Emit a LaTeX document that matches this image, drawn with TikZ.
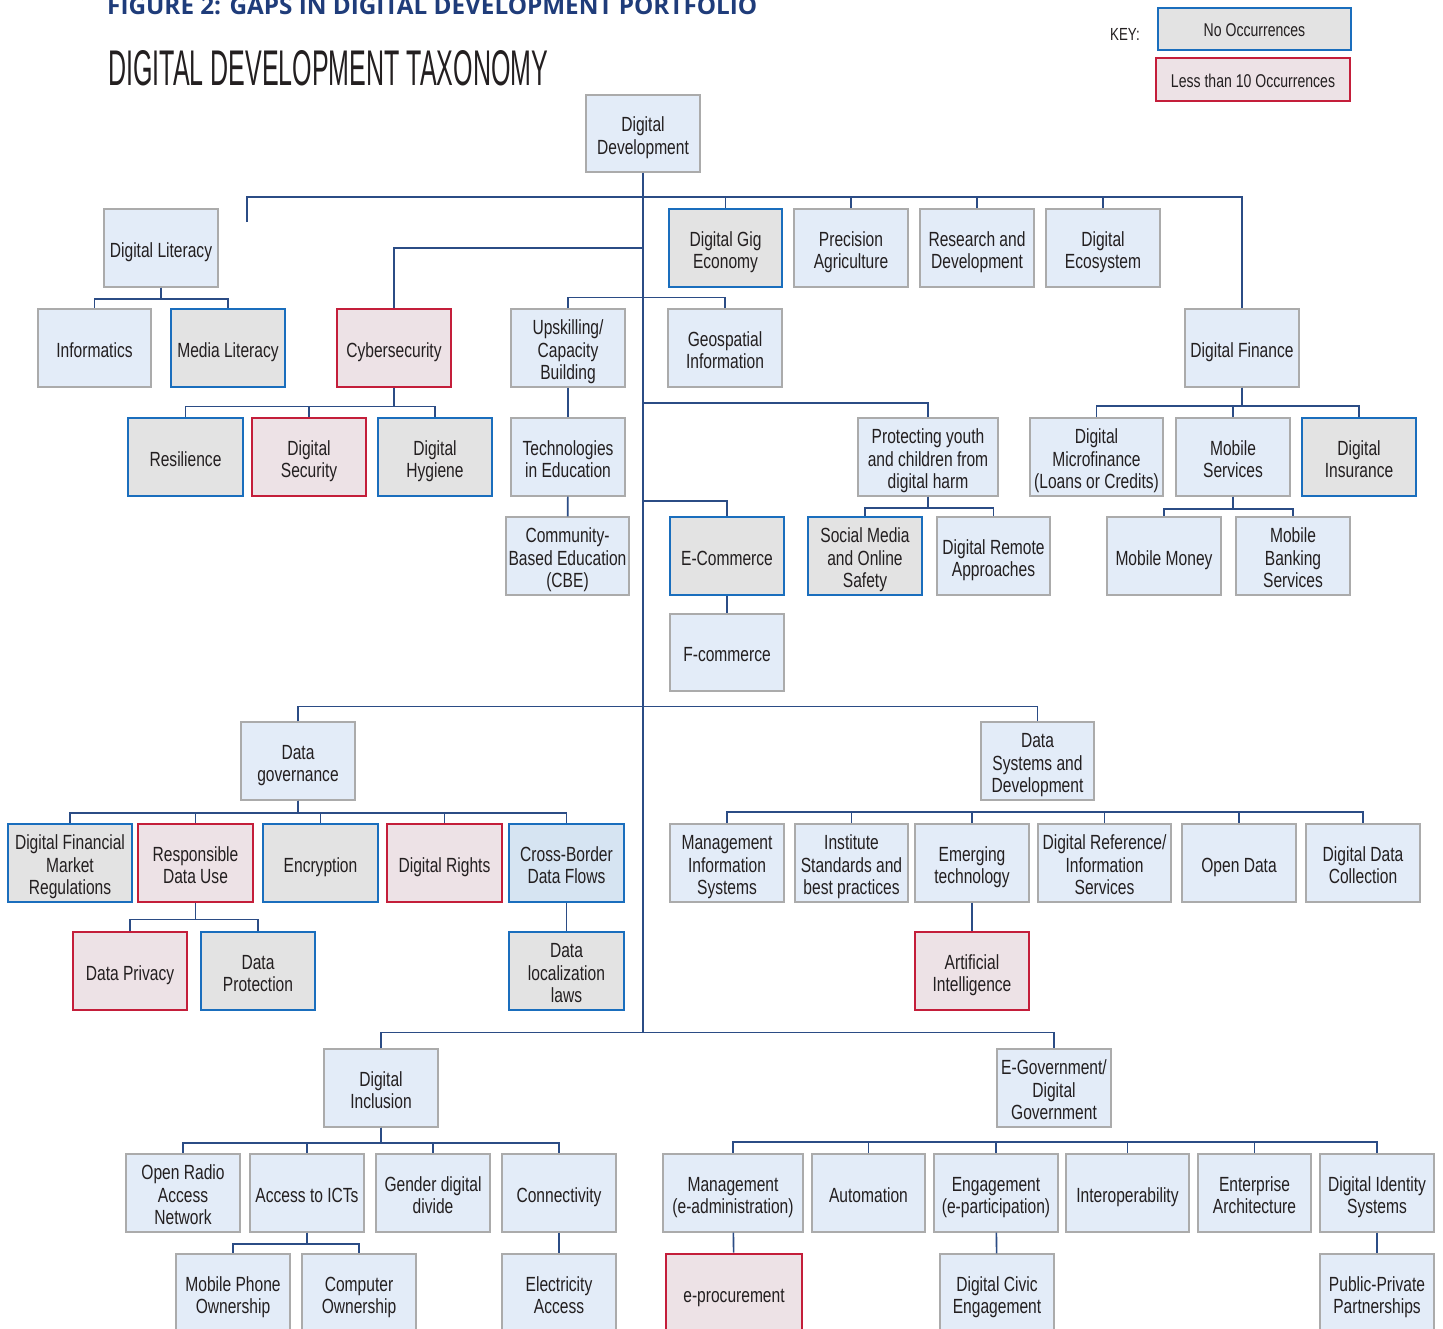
\documentclass[tikz,border=0pt]{standalone}
\usepackage{fontspec}
\usepackage{graphicx}
\setmainfont{Liberation Sans}[FakeStretch=0.76]
\newfontfamily\titlefont{Open Sans}
\newfontfamily\headfont{Liberation Sans}
\definecolor{lbfill}{HTML}{E3ECF8}
\definecolor{lbdraw}{HTML}{ABABAB}
\definecolor{gfill}{HTML}{E3E3E3}
\definecolor{bdraw}{HTML}{1A6EBD}
\definecolor{pfill}{HTML}{EDE2E6}
\definecolor{rdraw}{HTML}{C41E3A}
\definecolor{cbfill}{HTML}{D6E4F2}
\definecolor{lnc}{HTML}{2B4C85}
\definecolor{txt}{HTML}{231F20}
\definecolor{titleblue}{HTML}{1F3C7A}
\tikzset{
  basebox/.style={rectangle, align=center, text=txt, inner sep=0pt,
    font=\fontsize{20.5}{22.5}\selectfont},
  plainbox/.style={basebox, fill=lbfill, draw=lbdraw, line width=1.4pt},
  nocc/.style={basebox, fill=gfill, draw=bdraw, line width=2.6pt},
  locc/.style={basebox, fill=pfill, draw=rdraw, line width=2.6pt},
  crossbox/.style={basebox, fill=cbfill, draw=bdraw, line width=2.6pt},
  conn/.style={draw=lnc, line width=1.6pt},
  trunk/.style={draw=lnc, line width=2.4pt},
}
\newcommand\vstr[1]{\rule{0pt}{23.4pt}#1\rule[-4.6pt]{0pt}{0pt}}
\newcommand\mkbox[7]{\node[#1, minimum width={#5-#3}, minimum height={#6-#4}] (#2) at ({(#3+#5)/2},{(#4+#6)/2}) {\vstr{#7}};}
\begin{document}
\begin{tikzpicture}[x=1pt,y=-1pt]
\clip (0,0) rectangle (1443,1328);
\fill[white] (0,0) rectangle (1443,1328);

% titles
\node[anchor=base west, inner sep=0pt, text=titleblue] (fig) at (107,14)
  {\resizebox{650pt}{!}{\titlefont\bfseries\fontsize{23}{23}\selectfont FIGURE 2: GAPS IN DIGITAL DEVELOPMENT PORTFOLIO}};
\node[anchor=base west, inner sep=0pt, text=txt] (ttl) at (108,85)
  {\resizebox{440pt}{35pt}{\headfont DIGITAL DEVELOPMENT TAXONOMY}};

% key
\node[text=txt, font=\fontsize{17.5}{20}\selectfont, inner sep=0pt, anchor=base] (key) at (1125,40) {KEY:};
\node[nocc, font=\fontsize{18.5}{20}\selectfont, minimum width=193, minimum height=42] (k1) at (1254.5,29) {\rule{0pt}{19.5pt}No Occurrences\rule[-4pt]{0pt}{0pt}};
\node[locc, font=\fontsize{18.5}{20}\selectfont, minimum width=194, minimum height=43] (k2) at (1253,79.5) {\rule{0pt}{19.5pt}Less than 10 Occurrences\rule[-4pt]{0pt}{0pt}};

% nodes
\mkbox{plainbox}{dd}{586}{95}{700}{172}{Digital\\Development}
\mkbox{plainbox}{dlit}{104}{209}{218}{287}{Digital Literacy}
\mkbox{nocc}{gig}{669}{209}{782}{287}{Digital Gig\\Economy}
\mkbox{plainbox}{prec}{794}{209}{908}{287}{Precision\\Agriculture}
\mkbox{plainbox}{rnd}{920}{209}{1034}{287}{Research and\\Development}
\mkbox{plainbox}{eco}{1046}{209}{1160}{287}{Digital\\Ecosystem}
\mkbox{plainbox}{dfin}{1185}{309}{1299}{387}{Digital Finance}
\mkbox{plainbox}{info}{38}{309}{151}{387}{Informatics}
\mkbox{nocc}{media}{171}{309}{285}{387}{Media Literacy}
\mkbox{locc}{cyber}{337}{309}{451}{387}{Cybersecurity}
\mkbox{plainbox}{upsk}{511}{309}{625}{387}{Upskilling/\\Capacity\\Building}
\mkbox{plainbox}{geo}{668}{309}{782}{387}{Geospatial\\Information}
\mkbox{nocc}{resil}{128}{418}{243}{496}{Resilience}
\mkbox{locc}{dsec}{252}{418}{366}{496}{Digital\\Security}
\mkbox{nocc}{hyg}{378}{418}{492}{496}{Digital\\Hygiene}
\mkbox{plainbox}{tech}{511}{418}{625}{496}{Technologies\\in Education}
\mkbox{plainbox}{prot}{858}{418}{998}{496}{Protecting youth\\and children from\\digital harm}
\mkbox{plainbox}{micro}{1030}{418}{1163}{496}{Digital\\Microfinance\\(Loans or Credits)}
\mkbox{plainbox}{mserv}{1176}{418}{1290}{496}{Mobile\\Services}
\mkbox{nocc}{dins}{1302}{418}{1416}{496}{Digital\\Insurance}
\mkbox{plainbox}{cbe}{506}{517}{629}{595}{Community-\\Based Education\\(CBE)}
\mkbox{nocc}{ecom}{670}{517}{784}{595}{E-Commerce}
\mkbox{nocc}{social}{808}{517}{922}{595}{Social Media\\and Online\\Safety}
\mkbox{plainbox}{remote}{937}{517}{1050}{595}{Digital Remote\\Approaches}
\mkbox{plainbox}{mmoney}{1107}{517}{1221}{595}{Mobile Money}
\mkbox{plainbox}{mbank}{1236}{517}{1350}{595}{Mobile\\Banking\\Services}
\mkbox{plainbox}{fcom}{670}{614}{784}{691}{F-commerce}
\mkbox{plainbox}{dgov}{241}{722}{355}{800}{Data\\governance}
\mkbox{plainbox}{dsys}{981}{722}{1094}{800}{Data\\Systems and\\Development}
\mkbox{nocc}{dfmr}{8}{824}{132}{902}{Digital Financial\\Market\\Regulations}
\mkbox{locc}{rdu}{138}{824}{253}{902}{Responsible\\Data Use}
\mkbox{nocc}{encr}{263}{824}{378}{902}{Encryption}
\mkbox{locc}{drights}{387}{824}{502}{902}{Digital Rights}
\mkbox{crossbox}{cbdf}{509}{824}{624}{902}{Cross-Border\\Data Flows}
\mkbox{plainbox}{mis}{670}{824}{784}{902}{Management\\Information\\Systems}
\mkbox{plainbox}{inst}{795}{824}{908}{902}{Institute\\Standards and\\best practices}
\mkbox{plainbox}{emerg}{915}{824}{1029}{902}{Emerging\\technology}
\mkbox{plainbox}{dref}{1038}{824}{1171}{902}{Digital Reference/\\Information\\Services}
\mkbox{plainbox}{odata}{1182}{824}{1296}{902}{Open Data}
\mkbox{plainbox}{ddc}{1306}{824}{1420}{902}{Digital Data\\Collection}
\mkbox{locc}{dpriv}{73}{932}{187}{1010}{Data Privacy}
\mkbox{nocc}{dprot}{201}{932}{315}{1010}{Data\\Protection}
\mkbox{nocc}{dloc}{509}{932}{624}{1010}{Data\\localization\\laws}
\mkbox{locc}{ai}{915}{932}{1029}{1010}{Artificial\\Intelligence}
\mkbox{plainbox}{dinc}{324}{1049}{438}{1127}{Digital\\Inclusion}
\mkbox{plainbox}{egov}{997}{1049}{1111}{1127}{E-Government/\\Digital\\Government}
\mkbox{plainbox}{oran}{126}{1154}{240}{1232}{Open Radio\\Access\\Network}
\mkbox{plainbox}{aict}{250}{1154}{364}{1232}{Access to ICTs}
\mkbox{plainbox}{gender}{376}{1154}{490}{1232}{Gender digital\\divide}
\mkbox{plainbox}{nconn}{502}{1154}{616}{1232}{Connectivity}
\mkbox{plainbox}{mgmt}{663}{1154}{803}{1232}{Management\\(e-administration)}
\mkbox{plainbox}{auto}{812}{1154}{925}{1232}{Automation}
\mkbox{plainbox}{engage}{934}{1154}{1058}{1232}{Engagement\\(e-participation)}
\mkbox{plainbox}{interop}{1066}{1154}{1189}{1232}{Interoperability}
\mkbox{plainbox}{ent}{1198}{1154}{1311}{1232}{Enterprise\\Architecture}
\mkbox{plainbox}{dids}{1320}{1154}{1434}{1232}{Digital Identity\\Systems}
\mkbox{plainbox}{mphone}{176}{1254}{290}{1332}{Mobile Phone\\Ownership}
\mkbox{plainbox}{comp}{302}{1254}{416}{1332}{Computer\\Ownership}
\mkbox{plainbox}{elec}{502}{1254}{616}{1332}{Electricity\\Access}
\mkbox{locc}{eproc}{666}{1254}{802}{1332}{e-procurement}
\mkbox{plainbox}{civic}{940}{1254}{1054}{1332}{Digital Civic\\Engagement}
\mkbox{plainbox}{ppp}{1320}{1254}{1434}{1332}{Public-Private\\Partnerships}

% coordinates on trunk
\coordinate (tend) at (643,1033);
\coordinate (t248) at (643,248);
\coordinate (t403) at (643,403);
\coordinate (t501) at (643,501);
\coordinate (dlstub) at (247,222);
\coordinate (dsb) at (1037,812);
\coordinate (egb) at (1054,1142);

% trunk
\draw[trunk] (dd.south) -- (tend);

% top bar
\draw[conn] (dlstub) -- ++(0,-25) -| (dfin.north);
\foreach \n in {gig,prec,rnd,eco} \draw[conn] (\n.north) -- ++(0,-12);
\draw[conn] (t248) -| (cyber.north);
\draw[conn] (upsk.north) -- ++(0,-11) -| (geo.north);
\foreach \n in {info,media} \draw[conn] (dlit.south) -- ++(0,11) -| (\n.north);
\foreach \n in {resil,dsec,hyg} \draw[conn] (cyber.south) -- ++(0,18) -| (\n.north);
\draw[conn] (upsk) -- (tech);
\draw[conn] (tech) -- (cbe);
\draw[conn] (t403) -| (prot.north);
\foreach \n in {social,remote} \draw[conn] (prot.south) -- ++(0,11) -| (\n.north);
\draw[conn] (t501) -| (ecom.north);
\draw[conn] (ecom) -- (fcom);
\foreach \n in {micro,mserv,dins} \draw[conn] (dfin.south) -- ++(0,18) -| (\n.north);
\foreach \n in {mmoney,mbank} \draw[conn] (mserv.south) -- ++(0,12) -| (\n.north);

% data row
\draw[conn] (dgov.north) -- ++(0,-15) -| (dsys.north);
\foreach \n in {dfmr,rdu,encr,drights,cbdf} \draw[conn] (dgov.south) -- ++(0,12) -| (\n.north);
\foreach \n in {dpriv,dprot} \draw[conn] (rdu.south) -- ++(0,16) -| (\n.north);
\draw[conn] (cbdf) -- (dloc);
\foreach \n in {mis,inst,emerg,dref,odata,ddc} \draw[conn] (dsb) -| (\n.north);
\draw[conn] (emerg) -- (ai);

% bottom row
\draw[conn] (dinc.north) -- ++(0,-16) -| (egov.north);
\foreach \n in {oran,aict,gender,nconn} \draw[conn] (dinc.south) -- ++(0,15) -| (\n.north);
\foreach \n in {mphone,comp} \draw[conn] (aict.south) -- ++(0,11) -| (\n.north);
\draw[conn] (nconn) -- (elec);
\foreach \n in {mgmt,auto,engage,interop,ent,dids} \draw[conn] (egb) -| (\n.north);
\draw[conn] (mgmt) -- (eproc);
\draw[conn] (engage) -- (civic);
\draw[conn] (dids) -- (ppp);
\end{tikzpicture}
\end{document}
